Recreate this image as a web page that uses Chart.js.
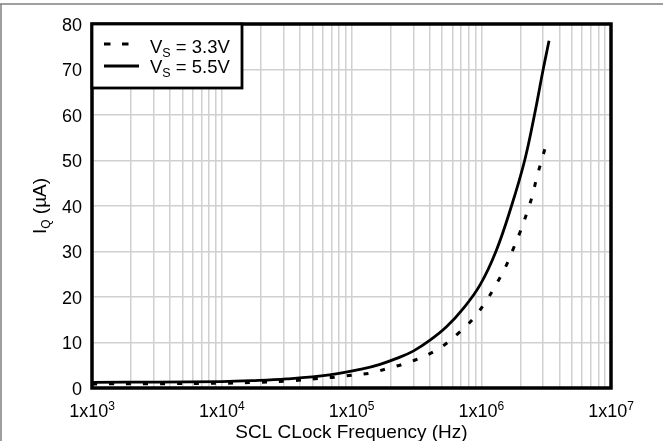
<!DOCTYPE html>
<html><head><meta charset="utf-8">
<script src="https://cdn.jsdelivr.net/npm/chart.js@4/dist/chart.umd.min.js"></script>
<style>html,body{margin:0;padding:0;background:#fff;}#wrap{width:663px;height:441px;position:relative;}</style>
</head><body><div id="wrap"><canvas id="c" width="663" height="441"></canvas></div>
<script>
// ---- data ----
const freq55 = [1000, 3162, 10000, 17000, 31600, 67600, 121600, 166000, 223000, 299000, 403000, 542000, 728000, 977000, 1297000, 1710000, 2160000, 2570000, 3000000, 3330000];
const iq55   = [1.25, 1.3, 1.4, 1.6, 2.0, 2.9, 4.2, 5.2, 6.5, 8.1, 10.5, 13.5, 17.5, 22.6, 30, 40, 50, 60, 70, 76.3];
const freq33 = [1000, 3162, 10000, 17000, 31600, 55000, 76000, 100000, 141000, 190000, 260000, 355000, 486000, 658000, 883000, 1107000, 1318000, 1550000, 1760000, 2000000, 2230000, 2460000, 2660000, 2880000, 3160000];
const iq33   = [0.9, 0.95, 1.05, 1.2, 1.5, 2.1, 2.4, 2.8, 3.3, 4.3, 5.4, 6.85, 8.9, 11.9, 15.5, 19.4, 23.0, 26.8, 30.5, 34.4, 38.2, 42.0, 45.9, 49.5, 53.4];
const seriesNames = ['V_S = 3.3V', 'V_S = 5.5V'];
const yTickValues = [0, 10, 20, 30, 40, 50, 60, 70, 80];
const xDecadeExponents = [3, 4, 5, 6, 7];
const xGridMultipliers = [1, 2, 3, 4, 5, 6, 7, 8, 9];
const xTitle = 'SCL CLock Frequency (Hz)';
const yTitle = {main: 'I', sub: 'Q', rest: ' (\u00b5A)'};

const FONT = '"Liberation Sans", Arial, sans-serif';
const toPts = (xs, ys) => xs.map((x, i) => ({x: x, y: ys[i]}));

const gridValues = [];
xDecadeExponents.forEach(e => {
  if (e === xDecadeExponents[xDecadeExponents.length - 1]) { gridValues.push(Math.pow(10, e)); return; }
  xGridMultipliers.forEach(m => gridValues.push(m * Math.pow(10, e)));
});

function drawRich(ctx, parts, x, y, align) {
  let total = 0;
  parts.forEach(p => { ctx.font = p.size + 'px ' + FONT; p.w = ctx.measureText(p.t).width; total += p.w; });
  let cx = align === 'center' ? x - total / 2 : (align === 'right' ? x - total : x);
  ctx.textAlign = 'left';
  ctx.textBaseline = 'alphabetic';
  parts.forEach(p => { ctx.font = p.size + 'px ' + FONT; ctx.fillText(p.t, cx, y + (p.dy || 0)); cx += p.w; });
}
function nameParts(name, size, subSize) {
  const m = name.match(/^(.*?)_(\S)(.*)$/);
  if (!m) return [{t: name, size: size}];
  return [{t: m[1], size: size}, {t: m[2], size: subSize, dy: 4}, {t: m[3], size: size}];
}

const decor = {
  id: 'decor',
  afterDraw(chart) {
    const ctx = chart.ctx;
    const a = chart.chartArea;
    const xs = chart.scales.x, ys = chart.scales.y;
    ctx.save();
    // outer frame (top and left)
    ctx.strokeStyle = '#808080';
    ctx.lineWidth = 1.5;
    ctx.beginPath();
    ctx.moveTo(0, 4); ctx.lineTo(663, 4);
    ctx.moveTo(1, 4); ctx.lineTo(1, 441);
    ctx.stroke();
    // plot border
    ctx.strokeStyle = '#000';
    ctx.lineWidth = 3.5;
    ctx.strokeRect(a.left, a.top, a.right - a.left, a.bottom - a.top);
    // legend box
    const lx = a.left, ly = a.top, lw = 150, lh = 64;
    ctx.fillStyle = '#fff';
    ctx.fillRect(lx, ly, lw, lh);
    ctx.lineWidth = 2.8;
    ctx.strokeRect(lx, ly, lw, lh);
    ctx.lineWidth = 3;
    ctx.beginPath();
    ctx.moveTo(lx + 12, ly + 20); ctx.lineTo(lx + 18.5, ly + 20);
    ctx.moveTo(lx + 30, ly + 20); ctx.lineTo(lx + 36.5, ly + 20);
    ctx.stroke();
    ctx.beginPath();
    ctx.moveTo(lx + 12, ly + 42); ctx.lineTo(lx + 47, ly + 42);
    ctx.stroke();
    ctx.fillStyle = '#000';
    drawRich(ctx, nameParts(chart.data.datasets[0].label, 18.5, 12.5), lx + 58, ly + 28.5, 'left');
    drawRich(ctx, nameParts(chart.data.datasets[1].label, 18.5, 12.5), lx + 58, ly + 48.5, 'left');
    // y tick labels
    yTickValues.forEach(v => {
      drawRich(ctx, [{t: String(v), size: 18}], a.left - 10, ys.getPixelForValue(v) + 6.5, 'right');
    });
    // x tick labels
    xDecadeExponents.forEach(e => {
      const px = xs.getPixelForValue(Math.pow(10, e));
      drawRich(ctx, [{t: '1x10', size: 18}, {t: String(e), size: 12, dy: -7}], px, a.bottom + 28.5, 'center');
    });
    // x title
    drawRich(ctx, [{t: xTitle, size: 19}], (a.left + a.right) / 2, a.bottom + 49.5, 'center');
    // y title
    ctx.translate(38.5, (a.top + a.bottom) / 2);
    ctx.rotate(-Math.PI / 2);
    drawRich(ctx, [{t: yTitle.main, size: 19}, {t: yTitle.sub, size: 12, dy: 4}, {t: yTitle.rest, size: 19}], 0, 7, 'center');
    ctx.restore();
  }
};

new Chart(document.getElementById('c'), {
  type: 'line',
  data: {
    datasets: [
      {label: seriesNames[0], data: toPts(freq33, iq33), borderColor: '#000', borderWidth: 3, borderDash: [5, 12], pointRadius: 0, tension: 0.4, fill: false},
      {label: seriesNames[1], data: toPts(freq55, iq55), borderColor: '#000', borderWidth: 2.8, pointRadius: 0, tension: 0.4, fill: false}
    ]
  },
  options: {
    responsive: false,
    animation: false,
    devicePixelRatio: 1,
    layout: {padding: {left: 92, right: 52, top: 24, bottom: 53}},
    plugins: {legend: {display: false}, tooltip: {enabled: false}},
    scales: {
      x: {
        type: 'logarithmic', min: 1000, max: 10000000,
        afterBuildTicks: s => { s.ticks = gridValues.map(v => ({value: v})); },
        ticks: {display: false},
        grid: {color: '#d0d0d0', lineWidth: 1.5, drawTicks: false},
        border: {display: false}
      },
      y: {
        type: 'linear', min: 0, max: 80,
        afterBuildTicks: s => { s.ticks = yTickValues.map(v => ({value: v})); },
        ticks: {display: false},
        grid: {color: '#d0d0d0', lineWidth: 1.5, drawTicks: false},
        border: {display: false}
      }
    }
  },
  plugins: [decor]
});
</script></body></html>
